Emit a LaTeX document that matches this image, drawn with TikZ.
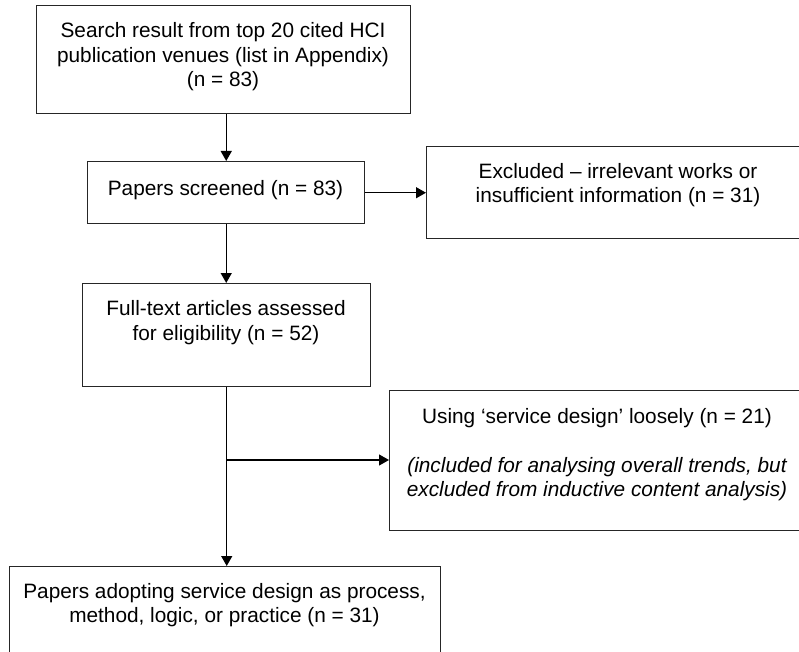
\documentclass[tikz,border=0pt]{standalone}
\usepackage{fontspec}
\setmainfont{Liberation Sans}
\usetikzlibrary{arrows.meta}
\begin{document}
\begin{tikzpicture}[x=0.75pt,y=-0.75pt,
  box/.style={draw=black!85, line width=1.1pt, inner sep=0pt, anchor=north west},
  txt/.style={align=center, inner sep=0pt, font=\fontsize{15.6}{18.4}\selectfont},
  arr/.style={draw=black, line width=1.1pt, -{Triangle[length=7.5pt,width=8.2pt]}}]
\useasboundingbox (0,0) rectangle (799,652);
\clip (0,0) rectangle (799,652);
% boxes
\node[box, minimum width=374*0.75pt, minimum height=108*0.75pt] (b1) at (36,5) {};
\node[box, minimum width=277*0.75pt, minimum height=62*0.75pt] (b2) at (87,161) {};
\node[box, minimum width=384*0.75pt, minimum height=92*0.75pt] (ex) at (426,146) {};
\node[box, minimum width=288*0.75pt, minimum height=103*0.75pt] (b3) at (82,283) {};
\node[box, minimum width=421*0.75pt, minimum height=140*0.75pt] (b4) at (389,390) {};
\node[box, minimum width=431*0.75pt, minimum height=134*0.75pt] (b5) at (9,566) {};
% texts
\node[txt] (t1) at (223,57) {Search result from top 20 cited HCI\\publication venues (list in Appendix)\\(n = 83)};
\node[txt] (t2) at (225.5,190) {Papers screened (n = 83)};
\node[txt] (tex) at (618,185) {Excluded – irrelevant works or\\insufficient information (n = 31)};
\node[txt] (t3) at (226,322.5) {Full-text articles assessed\\for eligibility (n = 52)};
\node[txt] (t4a) at (597,418) {Using ‘service design’ loosely (n = 21)};
\node[txt, font=\fontsize{15.6}{18.4}\selectfont\itshape] (t4b) at (597,479) {(included for analysing overall trends, but\\excluded from inductive content analysis)};
\node[txt] (t5) at (224.5,605) {Papers adopting service design as process,\\method, logic, or practice (n = 31)};
% connectors
\coordinate (by) at (0,460);
\draw[arr] (b2.north |- b1.south) -- (b2.north);
\draw[arr] (b2.east) -- (b2.east -| ex.west);
\draw[arr] (b2.south) -- (b2.south |- b3.north);
\draw[arr] (b3.south) -- (b3.south |- b5.north);
\draw[arr] (b3.south |- by) -- (by -| b4.west);
\end{tikzpicture}
\end{document}
